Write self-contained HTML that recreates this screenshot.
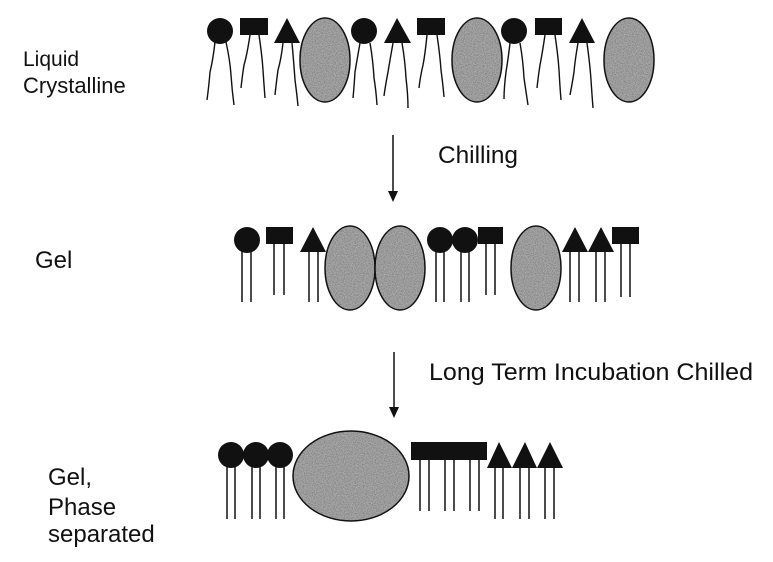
<!DOCTYPE html>
<html><head><meta charset="utf-8"><style>
html,body{margin:0;padding:0;background:#fff}
svg{display:block}
text{font-family:"Liberation Sans",sans-serif;font-size:24px;fill:#111}
</style></head><body>
<svg width="773" height="562" viewBox="0 0 773 562" xmlns="http://www.w3.org/2000/svg">
<defs>
<filter id="n" x="0" y="0" width="100%" height="100%">
<feTurbulence type="fractalNoise" baseFrequency="0.9" numOctaves="2" seed="3"/>
<feColorMatrix type="matrix" values="0 0 0 0 0.2  0 0 0 0 0.2  0 0 0 0 0.2  0 0 0 -2 1.3"/>
</filter>
<pattern id="tex" width="60" height="60" patternUnits="userSpaceOnUse">
<rect width="60" height="60" fill="#a8a8a8"/>
<rect width="60" height="60" filter="url(#n)"/>
</pattern>
</defs>
<g fill="url(#tex)" stroke="#111" stroke-width="1.5">
<ellipse cx="325" cy="60" rx="25" ry="42"/>
<ellipse cx="477" cy="60" rx="25" ry="42"/>
<ellipse cx="629" cy="60" rx="25" ry="42"/>
<ellipse cx="350" cy="268" rx="25" ry="42"/>
<ellipse cx="400" cy="268" rx="25" ry="42"/>
<ellipse cx="536" cy="268" rx="25" ry="42"/>
<ellipse cx="351" cy="476" rx="58" ry="45"/>
</g>
<g fill="#111">
<circle cx="220" cy="31" r="13"/>
<rect x="240" y="18" width="28" height="17"/>
<polygon points="287,18 274,43 300,43"/>
<circle cx="364" cy="31" r="13"/>
<polygon points="397,18 384,43 411,43"/>
<rect x="417" y="18" width="28" height="17"/>
<circle cx="514" cy="31" r="13"/>
<rect x="535" y="18" width="27" height="17"/>
<polygon points="582,18 569,43 595,43"/>
<circle cx="247" cy="240" r="13"/>
<rect x="266" y="227" width="27" height="17"/>
<polygon points="313,227 300,252 326,252"/>
<circle cx="440" cy="240" r="13"/>
<circle cx="465" cy="240" r="13"/>
<rect x="478" y="227" width="25" height="17"/>
<polygon points="575,227 562,252 588,252"/>
<polygon points="601,227 588,252 614,252"/>
<rect x="612" y="227" width="27" height="17"/>
<circle cx="231" cy="455" r="13"/>
<circle cx="256" cy="455" r="13"/>
<circle cx="280" cy="455" r="13"/>
<rect x="411" y="442" width="76" height="18"/>
<polygon points="499,442 487,468 512,468"/>
<polygon points="525,442 512,468 537,468"/>
<polygon points="550,442 537,468 563,468"/>
</g>
<g stroke="#111" stroke-width="1.4" fill="none">
<path d="M215,42 Q213,60 210,72 Q209,85 207,100"/>
<path d="M226,42 Q230,60 231,75 Q232,90 234,105"/>
<path d="M250,35 Q247,55 244,65 Q242,78 241,88"/>
<path d="M259,35 Q262,55 263,70 Q264,85 265,98"/>
<path d="M283,43 Q281,60 278,70 Q276,85 275,95"/>
<path d="M292,43 Q294,65 295,80 Q297,95 298,106"/>
<path d="M360,43 Q357,60 355,72 Q354,88 353,98"/>
<path d="M370,43 Q373,60 374,78 Q376,90 377,105"/>
<path d="M393,43 Q390,60 388,72 Q385,88 384,96"/>
<path d="M402,43 Q405,60 406,78 Q408,95 408,108"/>
<path d="M427,35 Q425,55 423,65 Q420,78 419,88"/>
<path d="M437,35 Q440,55 441,70 Q443,85 444,97"/>
<path d="M510,43 Q508,60 506,72 Q504,88 504,99"/>
<path d="M520,43 Q523,60 524,78 Q526,92 528,105"/>
<path d="M545,35 Q542,55 540,65 Q538,78 537,88"/>
<path d="M555,35 Q558,55 559,70 Q560,88 561,100"/>
<path d="M578,43 Q575,60 574,72 Q572,85 570,95"/>
<path d="M587,43 Q590,65 591,80 Q592,95 593,108"/>
</g>
<g stroke="#111" stroke-width="1.5">
<line x1="242" y1="250" x2="242" y2="302"/><line x1="251" y1="250" x2="251" y2="302"/>
<line x1="274" y1="244" x2="274" y2="295"/><line x1="284" y1="244" x2="284" y2="295"/>
<line x1="309" y1="252" x2="309" y2="302"/><line x1="318" y1="252" x2="318" y2="302"/>
<line x1="436" y1="250" x2="436" y2="302"/><line x1="444" y1="250" x2="444" y2="302"/>
<line x1="461" y1="250" x2="461" y2="302"/><line x1="469" y1="250" x2="469" y2="302"/>
<line x1="486" y1="244" x2="486" y2="295"/><line x1="495" y1="244" x2="495" y2="295"/>
<line x1="570" y1="252" x2="570" y2="302"/><line x1="579" y1="252" x2="579" y2="302"/>
<line x1="596" y1="252" x2="596" y2="302"/><line x1="605" y1="252" x2="605" y2="302"/>
<line x1="621" y1="244" x2="621" y2="297"/><line x1="630" y1="244" x2="630" y2="297"/>
<line x1="227" y1="465" x2="227" y2="519"/><line x1="235" y1="465" x2="235" y2="519"/>
<line x1="252" y1="465" x2="252" y2="519"/><line x1="260" y1="465" x2="260" y2="519"/>
<line x1="276" y1="465" x2="276" y2="519"/><line x1="284" y1="465" x2="284" y2="519"/>
<line x1="420" y1="460" x2="420" y2="511"/><line x1="429" y1="460" x2="429" y2="511"/>
<line x1="445" y1="460" x2="445" y2="511"/><line x1="454" y1="460" x2="454" y2="511"/>
<line x1="470" y1="460" x2="470" y2="511"/><line x1="479" y1="460" x2="479" y2="511"/>
<line x1="495" y1="468" x2="495" y2="519"/><line x1="503" y1="468" x2="503" y2="519"/>
<line x1="520" y1="468" x2="520" y2="519"/><line x1="529" y1="468" x2="529" y2="519"/>
<line x1="545" y1="468" x2="545" y2="519"/><line x1="554" y1="468" x2="554" y2="519"/>
<line x1="393" y1="135" x2="393" y2="194"/>
<line x1="394" y1="352" x2="394" y2="410"/>
</g>
<g fill="#111">
<polygon points="388,191 398,191 393,202"/>
<polygon points="389,407 399,407 394,418"/>
</g>
<text x="23" y="66" style="font-size:21px">Liquid</text>
<text x="23" y="93" style="font-size:22px">Crystalline</text>
<text x="438" y="163" textLength="80" lengthAdjust="spacingAndGlyphs">Chilling</text>
<text x="35" y="268">Gel</text>
<text x="429" y="380" textLength="324" lengthAdjust="spacingAndGlyphs">Long Term Incubation Chilled</text>
<text x="48" y="485">Gel,</text>
<text x="48" y="515">Phase</text>
<text x="48" y="542">separated</text>
</svg>
</body></html>
